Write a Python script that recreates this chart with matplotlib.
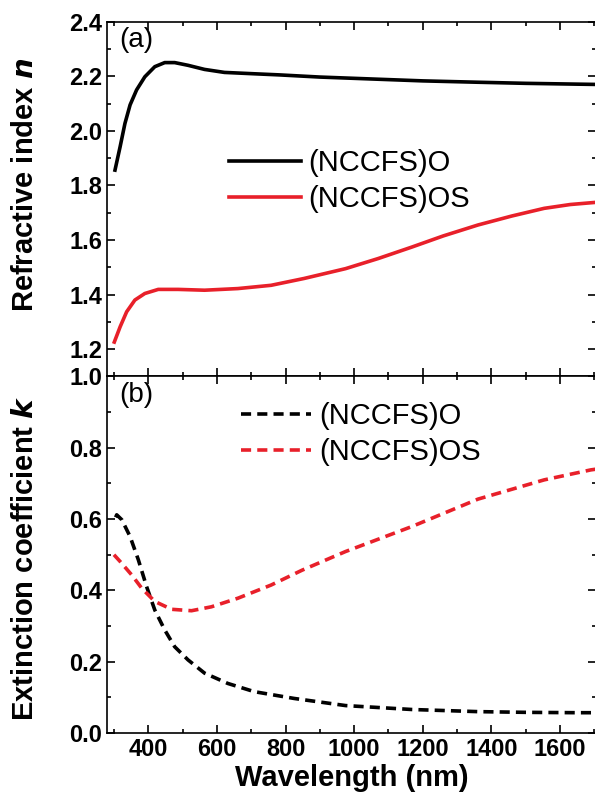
import numpy as np
import matplotlib
matplotlib.use("Agg")
import matplotlib.pyplot as plt
from matplotlib.ticker import MultipleLocator

plt.rcParams['font.family'] = ['Liberation Sans', 'DejaVu Sans']

# values
wl_n_o = [303, 318, 332, 347, 366, 390, 419, 448, 477, 516, 564, 622, 709, 781, 900,
          1071, 1200, 1361, 1500, 1651, 1705]
n_o = [1.856, 1.942, 2.027, 2.095, 2.15, 2.198, 2.235, 2.25, 2.25, 2.24, 2.225, 2.214, 2.209,
       2.205, 2.197, 2.189, 2.183, 2.178, 2.174, 2.171, 2.17]

wl_n_os = [301, 318, 337, 361, 390, 429, 487, 564, 661, 758, 854, 975, 1070, 1168, 1260,
           1361, 1460, 1554, 1630, 1705]
n_os = [1.226, 1.282, 1.337, 1.38, 1.404, 1.419, 1.419, 1.416, 1.422, 1.434, 1.459, 1.495,
        1.532, 1.574, 1.615, 1.655, 1.688, 1.716, 1.73, 1.738]

wl_k_o = [305, 308, 323, 347, 371, 395, 419, 448, 477, 516, 564, 632, 709, 825, 975,
          1168, 1361, 1500, 1651, 1705]
k_o = [0.605, 0.612, 0.598, 0.551, 0.486, 0.411, 0.345, 0.289, 0.242, 0.205, 0.168, 0.139,
       0.116, 0.097, 0.077, 0.066, 0.06, 0.058, 0.057, 0.057]

wl_k_os = [300, 318, 352, 381, 419, 468, 526, 584, 661, 758, 849, 975, 1168, 1361, 1554,
           1690, 1705]
k_os = [0.5, 0.481, 0.443, 0.406, 0.369, 0.347, 0.343, 0.354, 0.378, 0.415, 0.457, 0.509,
        0.579, 0.656, 0.71, 0.738, 0.74]

labels = ['(NCCFS)O', '(NCCFS)OS']

fig = plt.figure(figsize=(5.95, 8.02), dpi=100)
ax1 = fig.add_axes([0.18, 0.5306, 0.8217, 0.4424])
ax2 = fig.add_axes([0.18, 0.086, 0.8217, 0.4446], sharex=ax1)

red = '#e8202a'
dash = (0, (2.8, 1.7))
ax1.plot(wl_n_o, n_o, color='black', lw=2.6, label=labels[0])
ax1.plot(wl_n_os, n_os, color=red, lw=2.6, label=labels[1])
ax2.plot(wl_k_o, k_o, color='black', lw=2.6, ls=dash, label=labels[0])
ax2.plot(wl_k_os, k_os, color=red, lw=2.6, ls=dash, label=labels[1])

ax1.set_xlim(280, 1705)
ax1.set_ylim(1.1, 2.4)
ax2.set_ylim(0, 1.0)

ax1.set_yticks([1.2, 1.4, 1.6, 1.8, 2.0, 2.2, 2.4])
ax1.yaxis.set_minor_locator(MultipleLocator(0.1))
ax2.set_yticks([0.0, 0.2, 0.4, 0.6, 0.8, 1.0])
ax2.yaxis.set_minor_locator(MultipleLocator(0.1))
ax2.set_xticks([400, 600, 800, 1000, 1200, 1400, 1600])
ax2.xaxis.set_minor_locator(MultipleLocator(100))

for ax in (ax1, ax2):
    ax.tick_params(which='both', direction='in', top=True, right=True, width=1.2)
    ax.tick_params(which='major', length=6, labelsize=17)
    ax.tick_params(which='minor', length=3)
    for s in ax.spines.values():
        s.set_linewidth(1.2)
ax1.tick_params(labelbottom=False)
ax1.set_yticklabels(['1.2', '1.4', '1.6', '1.8', '2.0', '2.2', '2.4'], fontweight='bold')
ax2.set_yticklabels(['0.0', '0.2', '0.4', '0.6', '0.8', '1.0'], fontweight='bold')
ax2.set_xticklabels(['400', '600', '800', '1000', '1200', '1400', '1600'], fontweight='bold')

ax1.set_ylabel('Refractive index $\\boldsymbol{n}$', fontsize=21, fontweight='bold')
ax2.set_ylabel('Extinction coefficient $\\boldsymbol{k}$', fontsize=21, fontweight='bold')
ax2.set_xlabel('Wavelength (nm)', fontsize=21, fontweight='bold', labelpad=2)
ax1.yaxis.set_label_coords(-0.14, 0.54)
ax2.yaxis.set_label_coords(-0.14, 0.49)

ax1.text(0.025, 0.985, '(a)', transform=ax1.transAxes, fontsize=20, va='top')
ax2.text(0.025, 0.985, '(b)', transform=ax2.transAxes, fontsize=20, va='top')

ax1.legend(loc='upper left', bbox_to_anchor=(0.22, 0.683), frameon=False, fontsize=21,
           handlelength=2.45, handletextpad=0.25, labelspacing=0.3, borderpad=0)
ax2.legend(loc='upper left', bbox_to_anchor=(0.245, 0.97), frameon=False, fontsize=21,
           handlelength=2.4, handletextpad=0.25, labelspacing=0.3, borderpad=0)

fig.savefig('out.png', dpi=100)
